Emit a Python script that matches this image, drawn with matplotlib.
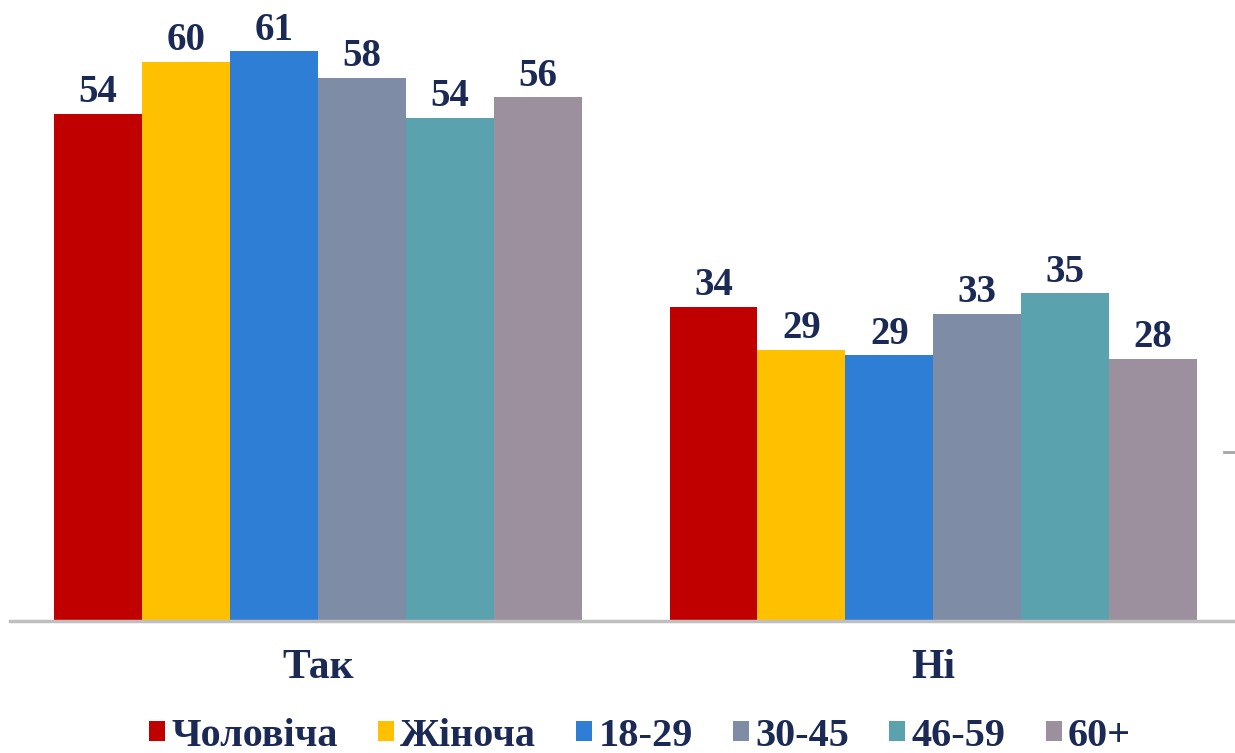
import matplotlib
matplotlib.use("Agg")
import matplotlib.pyplot as plt
from matplotlib.lines import Line2D
import numpy as np

categories = ["Так", "Ні"]
series_names = ["Чоловіча", "Жіноча", "18-29", "30-45", "46-59", "60+"]
# bar heights
heights = {
    "Чоловіча": [54.0, 33.5],
    "Жіноча": [59.6, 28.9],
    "18-29": [60.7, 28.3],
    "30-45": [57.9, 32.7],
    "46-59": [53.6, 34.9],
    "60+": [55.8, 27.9],
}
# labels as printed on the chart
labels = {
    "Чоловіча": [54, 34],
    "Жіноча": [60, 29],
    "18-29": [61, 29],
    "30-45": [58, 33],
    "46-59": [54, 35],
    "60+": [56, 28],
}
colors = ["#C00000", "#FFC000", "#2E7ED6", "#7F8CA6", "#5AA2AD", "#9C8F9E"]
text_color = "#1B2A55"

W, H = 1235, 753
fig = plt.figure(figsize=(W / 100, H / 100), dpi=100)
ax = fig.add_axes([10 / W, 132 / H, 1 - 10 / W, 610 / H])

n = len(series_names)
bw = 1 / 7
x = np.arange(len(categories))
font = ["Liberation Serif", "DejaVu Serif"]

for i, name in enumerate(series_names):
    xs = x + (i - (n - 1) / 2) * bw
    bars = ax.bar(xs, heights[name], width=bw, color=colors[i], label=name,
                  edgecolor="none", zorder=2)
    for b, lab in zip(bars, labels[name]):
        ax.annotate(f"{lab}", (b.get_x() + b.get_width() / 2, b.get_height()),
                    xytext=(0, 2), textcoords="offset points",
                    ha="center", va="bottom", fontsize=28, fontweight="bold",
                    color=text_color, family=font)

ax.set_xlim(-0.5, 1.49)
ax.set_ylim(0, 65)
ax.set_xticks(x)
ax.set_xticklabels(categories, fontsize=30, fontweight="bold", color=text_color,
                   family=font)
ax.tick_params(axis="x", length=0, pad=20)
ax.set_yticks([])
for s in ["top", "right", "left"]:
    ax.spines[s].set_visible(False)
ax.spines["bottom"].set_color("#BFBFBF")
ax.spines["bottom"].set_linewidth(2.5)

# small stray tick at the right edge
fig.add_artist(Line2D([1224 / W, 1 / 1], [1 - 452 / H, 1 - 452 / H],
                      color="#A6A6A6", lw=2))

leg = fig.legend(loc="center", bbox_to_anchor=(640 / W, 1 - 736 / H), ncol=6,
                 frameon=False, handlelength=0.4, handleheight=0.4,
                 handletextpad=0.15, columnspacing=1.0,
                 prop={"family": font, "size": 29, "weight": "bold"})
for t in leg.get_texts():
    t.set_color(text_color)

fig.savefig("out.png", dpi=100)
